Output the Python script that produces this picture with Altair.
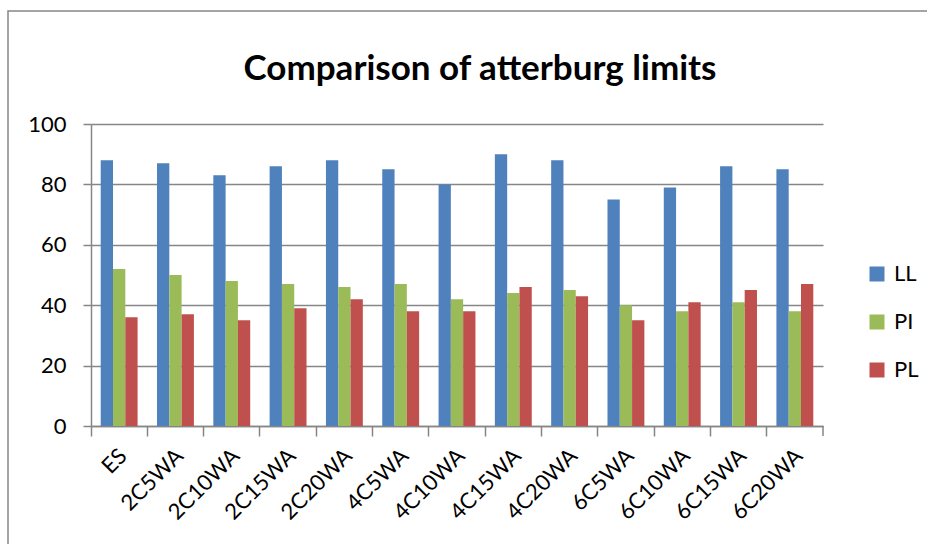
import altair as alt
import pandas as pd

# Atterberg limits per mix
mixes = ["ES", "2C5WA", "2C10WA", "2C15WA", "2C20WA", "4C5WA", "4C10WA",
         "4C15WA", "4C20WA", "6C5WA", "6C10WA", "6C15WA", "6C20WA"]
ll = [88, 87, 83, 86, 88, 85, 80, 90, 88, 75, 79, 86, 85]
pi = [52, 50, 48, 47, 46, 47, 42, 44, 45, 40, 38, 41, 38]
pl = [36, 37, 35, 39, 42, 38, 38, 46, 43, 35, 41, 45, 47]

series = ["LL", "PI", "PL"]
colors = ["#4F81BD", "#9BBB59", "#C0504D"]
title_text = ["Comparison of atterburg limits"]

rows = []
for name, vals in zip(series, [ll, pi, pl]):
    for m, v in zip(mixes, vals):
        rows.append({"mix": m, "series": name, "value": v})
df = pd.DataFrame(rows)

W, H = 732, 302
FONT = "Lato"
GRAY = "#868686"

x_enc = alt.X("mix:N", sort=mixes, title=None,
              scale=alt.Scale(paddingInner=0, paddingOuter=0),
              axis=alt.Axis(labelAngle=-45, labelFontSize=22, labelFont=FONT,
                            labelColor="black", bandPosition=0,
                            labelPadding=9, labelOffset=-3,
                            tickSize=10, tickColor=GRAY, tickWidth=1.5,
                            domainColor=GRAY, domainWidth=1.5, grid=False))

bars = alt.Chart(df).mark_bar().encode(
    x=x_enc,
    xOffset=alt.XOffset("series:N", sort=series,
                        scale=alt.Scale(paddingInner=0, paddingOuter=0.79)),
    y=alt.Y("value:Q", title=None,
            scale=alt.Scale(domain=[0, 100]),
            axis=alt.Axis(values=[0, 20, 40, 60, 80, 100], labelFontSize=22,
                          labelFont=FONT, labelColor="black", labelPadding=17,
                          tickSize=8, tickColor=GRAY, tickWidth=1.5,
                          domainColor=GRAY, domainWidth=1.5,
                          gridColor=GRAY, gridWidth=1.5)),
    color=alt.Color("series:N", sort=series,
                    scale=alt.Scale(domain=series, range=colors),
                    legend=alt.Legend(title=None, orient="none",
                                      legendX=775, legendY=139,
                                      symbolType="square", symbolSize=225,
                                      symbolStrokeWidth=0, labelFontSize=22,
                                      labelFont=FONT, labelColor="black",
                                      labelOffset=6, rowPadding=26)),
)

# closing tick at the right end of the category axis
end_tick = alt.Chart(pd.DataFrame({"k": [0]})).mark_rule(
    color=GRAY, strokeWidth=1.5
).encode(x=alt.value(W), y=alt.value(H), y2=alt.value(H + 10))

# outer chart frame
frame = alt.Chart(pd.DataFrame({"k": [0]})).mark_rect(
    fill=None, stroke=GRAY, strokeWidth=1.5
).encode(x=alt.value(-83), y=alt.value(-113),
         x2=alt.value(W + 300), y2=alt.value(H + 300))

# chart heading
heading = alt.Chart(pd.DataFrame({"t": title_text})).mark_text(
    font=FONT, fontSize=35, fontWeight="bold", color="black",
    align="center", baseline="alphabetic"
).encode(text="t:N", x=alt.value(389), y=alt.value(-44))

chart = alt.layer(frame, bars, end_tick, heading).properties(
    width=W, height=H,
    autosize=alt.AutoSizeParams(type="none"),
    padding={"left": 91, "top": 124, "right": 104, "bottom": 118},
).configure_view(stroke=None)

chart.save("out.html", embed_options={"renderer": "svg", "actions": False})
